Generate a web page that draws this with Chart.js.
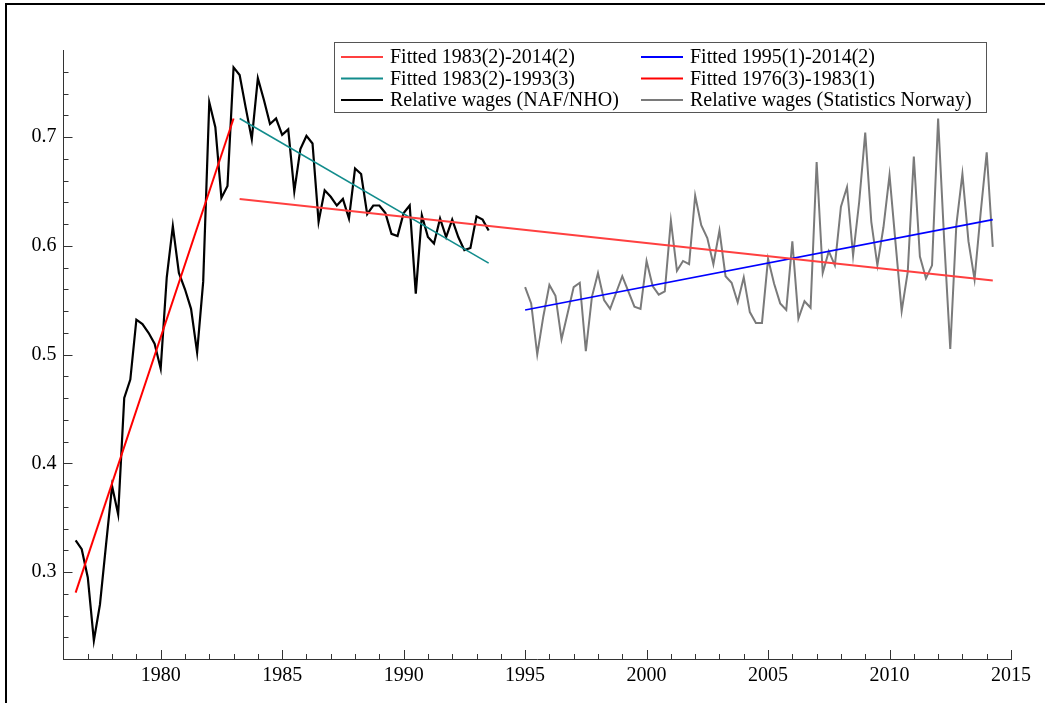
<!DOCTYPE html>
<html>
<head>
<meta charset="utf-8">
<script src="https://cdn.jsdelivr.net/npm/chart.js@4.4.1/dist/chart.umd.min.js"></script>
<style>
    html, body { margin: 0; padding: 0; background: #fff; }
</style>
</head>
<body>
<canvas id="wageChart" width="1045" height="703"></canvas>
<script>
// relative wages, quarterly. NAF/NHO series starts 1976(3), Statistics Norway starts 1995(1)
const nafStart = 1976.5;
const nafValues = [
    0.329, 0.321, 0.295, 0.237, 0.270, 0.325, 0.379, 0.353, 0.460, 0.477,
    0.532, 0.528, 0.520, 0.510, 0.487, 0.571, 0.618, 0.575, 0.560, 0.542,
    0.502, 0.567, 0.732, 0.709, 0.644, 0.655, 0.764, 0.757, 0.727, 0.698,
    0.754, 0.734, 0.712, 0.717, 0.702, 0.707, 0.650, 0.689, 0.701, 0.694,
    0.622, 0.651, 0.645, 0.637, 0.643, 0.625, 0.671, 0.666, 0.629, 0.637,
    0.637, 0.630, 0.611, 0.609, 0.630, 0.637, 0.556, 0.628, 0.608, 0.602,
    0.625, 0.608, 0.624, 0.608, 0.596, 0.598, 0.627, 0.624, 0.614
];
const ssbStart = 1995.0;
const ssbValues = [
    0.562, 0.547, 0.500, 0.535, 0.564, 0.554, 0.514, 0.538, 0.562, 0.566,
    0.503, 0.553, 0.575, 0.550, 0.542, 0.557, 0.572, 0.558, 0.544, 0.542,
    0.586, 0.563, 0.555, 0.558, 0.623, 0.577, 0.586, 0.583, 0.646, 0.619,
    0.607, 0.583, 0.614, 0.572, 0.566, 0.548, 0.571, 0.539, 0.529, 0.529,
    0.588, 0.565, 0.547, 0.541, 0.604, 0.533, 0.549, 0.543, 0.677, 0.575,
    0.595, 0.582, 0.636, 0.654, 0.591, 0.640, 0.704, 0.622, 0.582, 0.617,
    0.665, 0.602, 0.540, 0.576, 0.682, 0.590, 0.570, 0.582, 0.717, 0.605,
    0.505, 0.619, 0.666, 0.604, 0.569, 0.630, 0.686, 0.599
];

// fitted trend lines (start, end)
const fitLongX = [1983.25, 2014.25];
const fitLongY = [0.643, 0.568];
const fitSsbX = [1995.0, 2014.25];
const fitSsbY = [0.541, 0.624];
const fitNafX = [1983.25, 1993.5];
const fitNafY = [0.717, 0.584];
const fitEarlyX = [1976.5, 1983.0];
const fitEarlyY = [0.281, 0.717];

const xTicks = [1980, 1985, 1990, 1995, 2000, 2005, 2010, 2015];
const yTicks = [0.3, 0.4, 0.5, 0.6, 0.7];

const FONT = '"Liberation Serif", "Times New Roman", serif';

function quarterly(start, values) {
    return values.map((v, i) => ({ x: start + i / 4, y: v }));
}
function pairs(xs, ys) {
    return xs.map((x, i) => ({ x: x, y: ys[i] }));
}

// white page + the frame line at left/top
const framePlugin = {
    id: 'frame',
    beforeDraw(chart) {
        const ctx = chart.ctx;
        ctx.save();
        ctx.fillStyle = '#fff';
        ctx.fillRect(0, 0, chart.width, chart.height);
        ctx.strokeStyle = '#000';
        ctx.lineWidth = 2;
        ctx.beginPath();
        ctx.moveTo(6, chart.height);
        ctx.lineTo(6, 4);
        ctx.lineTo(chart.width, 4);
        ctx.stroke();
        ctx.restore();
    }
};

// ticks point inwards, minor every year / 0.02
const innerTicks = {
    id: 'innerTicks',
    afterDraw(chart) {
        const { ctx, chartArea: a } = chart;
        const x = chart.scales.x, y = chart.scales.y;
        ctx.save();
        ctx.strokeStyle = '#333';
        ctx.lineWidth = 1;
        ctx.beginPath();
        for (let yr = Math.ceil(x.min) + 1; yr <= x.max; yr++) {
            const px = Math.round(x.getPixelForValue(yr)) + 0.5;
            const len = yr % 5 === 0 ? 9 : 5;
            ctx.moveTo(px, a.bottom);
            ctx.lineTo(px, a.bottom - len);
        }
        for (let k = 12; k <= 38; k++) {
            const py = Math.round(y.getPixelForValue(k / 50)) + 0.5;
            const len = k % 5 === 0 ? 9 : 5;
            ctx.moveTo(a.left, py);
            ctx.lineTo(a.left + len, py);
        }
        ctx.stroke();
        ctx.restore();
    }
};

// two column legend in a box, like the original
const boxLegend = {
    id: 'boxLegend',
    afterDraw(chart) {
        const ctx = chart.ctx;
        const left = 334, top = 42, w = 652, h = 70;
        ctx.save();
        ctx.fillStyle = '#fff';
        ctx.fillRect(left, top, w, h);
        ctx.strokeStyle = '#555';
        ctx.lineWidth = 1;
        ctx.strokeRect(left + 0.5, top + 0.5, w, h);
        ctx.font = '20px ' + FONT;
        ctx.textBaseline = 'middle';
        ctx.fillStyle = '#000';
        chart.data.datasets.forEach((ds, i) => {
            const col = i % 2, row = Math.floor(i / 2);
            const x0 = col === 0 ? 341 : 641;
            const yy = 57 + row * 21.5;
            ctx.strokeStyle = ds.borderColor;
            ctx.lineWidth = 2;
            ctx.beginPath();
            ctx.moveTo(x0, yy);
            ctx.lineTo(x0 + 42, yy);
            ctx.stroke();
            ctx.fillText(ds.label, x0 + 49, yy + 1);
        });
        ctx.restore();
    }
};

const lineDefaults = { pointRadius: 0, tension: 0, fill: false };

new Chart(document.getElementById('wageChart'), {
    type: 'line',
    data: {
        datasets: [
            { ...lineDefaults, label: 'Fitted 1983(2)-2014(2)', data: pairs(fitLongX, fitLongY), borderColor: '#ff4040', borderWidth: 2 },
            { ...lineDefaults, label: 'Fitted 1995(1)-2014(2)', data: pairs(fitSsbX, fitSsbY), borderColor: '#0000ff', borderWidth: 1.6 },
            { ...lineDefaults, label: 'Fitted 1983(2)-1993(3)', data: pairs(fitNafX, fitNafY), borderColor: '#128c8c', borderWidth: 1.6 },
            { ...lineDefaults, label: 'Fitted 1976(3)-1983(1)', data: pairs(fitEarlyX, fitEarlyY), borderColor: '#ff0000', borderWidth: 2 },
            { ...lineDefaults, label: 'Relative wages (NAF/NHO)', data: quarterly(nafStart, nafValues), borderColor: '#000000', borderWidth: 2.2 },
            { ...lineDefaults, label: 'Relative wages (Statistics Norway)', data: quarterly(ssbStart, ssbValues), borderColor: '#7a7a7a', borderWidth: 2 }
        ]
    },
    options: {
        responsive: false,
        animation: false,
        devicePixelRatio: 1,
        layout: { padding: { left: 0, top: 50, right: 34, bottom: 0 } },
        plugins: {
            legend: { display: false },
            tooltip: { enabled: false }
        },
        scales: {
            x: {
                type: 'linear',
                min: 1976,
                max: 2015,
                afterBuildTicks: (s) => { s.ticks = xTicks.map(v => ({ value: v })); },
                afterFit: (s) => { s.height = 44; },
                grid: { display: false, drawTicks: false },
                border: { display: true, color: '#333', width: 1 },
                ticks: {
                    color: '#000',
                    padding: 5,
                    maxRotation: 0,
                    font: { family: FONT, size: 20 },
                    callback: (v) => String(v)
                }
            },
            y: {
                type: 'linear',
                min: 0.22,
                max: 0.78,
                afterBuildTicks: (s) => { s.ticks = yTicks.map(v => ({ value: v })); },
                afterFit: (s) => { s.width = 63.5; },
                grid: { display: false, drawTicks: false },
                border: { display: true, color: '#333', width: 1 },
                ticks: {
                    color: '#000',
                    padding: 7,
                    font: { family: FONT, size: 20 },
                    callback: (v) => v.toFixed(1)
                }
            }
        }
    },
    plugins: [framePlugin, innerTicks, boxLegend]
});
</script>
</body>
</html>
